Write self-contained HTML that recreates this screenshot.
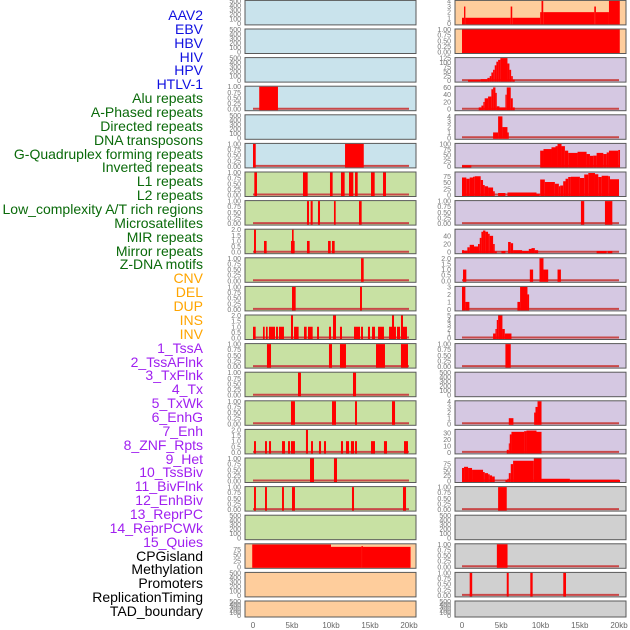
<!DOCTYPE html>
<html><head><meta charset="utf-8">
<style>
html,body{margin:0;padding:0;background:#fff;}
#wrap{position:relative;width:630px;height:630px;overflow:hidden;font-family:"Liberation Sans",sans-serif;}
.lbl{position:absolute;right:427px;font-size:14px;line-height:14px;white-space:nowrap;}
svg{position:absolute;left:0;top:0;}
</style></head>
<body>
<div id="wrap">
<svg id="chart" width="630" height="630"></svg>
</div>
<script>
// ---- track labels ----
const trackLabels = ["AAV2","EBV","HBV","HIV","HPV","HTLV-1","Alu repeats","A-Phased repeats","Directed repeats","DNA transposons","G-Quadruplex forming repeats","Inverted repeats","L1 repeats","L2 repeats","Low_complexity A/T rich regions","Microsatellites","MIR repeats","Mirror repeats","Z-DNA motifs","CNV","DEL","DUP","INS","INV","1_TssA","2_TssAFlnk","3_TxFlnk","4_Tx","5_TxWk","6_EnhG","7_Enh","8_ZNF_Rpts","9_Het","10_TssBiv","11_BivFlnk","12_EnhBiv","13_ReprPC","14_ReprPCWk","15_Quies","CPGisland","Methylation","Promoters","ReplicationTiming","TAD_boundary"];
const labelGroupSizes = [6,13,5,15,5];
const labelGroupColors = ["#1010e0","#0a6a0a","#ffa500","#a020f0","#000000"];

// ---- x axis ----
const xTickValues = [0,5,10,15,20];
const xTickLabels = ["0","5kb","10kb","15kb","20kb"];

// ---- tick sets ----
const E_vals=[0,100,200,300,400,500], E_lab=["0","100","200","300","400","500"];
const U_vals=[0,0.25,0.5,0.75,1], U_lab=["0.00","0.25","0.50","0.75","1.00"];
const T2_vals=[0,0.5,1,1.5,2], T2_lab=["0.0","0.5","1.0","1.5","2.0"];

// ---- left column ----
const leftBg = ["#c9e3ec","#c9e3ec","#c9e3ec","#c9e3ec","#c9e3ec","#c9e3ec",
 "#c8e1a3","#c8e1a3","#c8e1a3","#c8e1a3","#c8e1a3","#c8e1a3","#c8e1a3","#c8e1a3","#c8e1a3","#c8e1a3","#c8e1a3","#c8e1a3","#c8e1a3",
 "#fecd9c","#fecd9c","#fecd9c"];
const leftYmax = [500,500,500,1,500,1,1,1,2,1,1,2,1,1,1,2,1,1,500,97,500,500];
const leftTicks = ["E","E","E","U","E","U","U","U","T2","U","U","T2","U","U","U","T2","U","U","E",[0,25,50,75],"E","E"];
const leftBars = [
 [],[],[],
 [[0.8,3.2,1]],
 [],
 [[0,0.35,1],[11.8,14.2,1]],
 [[0.17,0.51,1],[6.41,7.01,1],[9.87,10.21,1],[11.28,11.75,1],[12.31,12.86,1],[13.08,13.42,1],[15.13,15.6,1],[16.67,17.05,1]],
 [[6.92,7.18,1],[7.39,7.65,1],[8.33,8.59,1],[10.38,10.6,1],[13.59,13.93,1]],
 [[0.13,0.38,2],[1.41,1.75,1],[4.87,5.34,1],[5.0,5.21,2],[6.92,7.26,1],[9.62,9.96,1],[10.13,10.47,1]],
 [[13.85,14.19,1]],
 [[5.0,5.47,1],[13.72,13.97,1]],
 [[0,0.34,1],[1.28,1.5,1],[1.67,1.88,1],[2.05,2.82,1],[2.95,3.2,1],[3.33,3.97,1],[4.87,5.13,2],[5.26,5.85,1],[6.54,6.88,1],[7.05,7.65,1],[8.21,8.46,1],[9.74,10.0,1],[10.26,10.64,2],[11.15,11.41,1],[12.95,13.72,1],[13.85,14.1,1],[14.74,15.0,1],[15.26,15.64,1],[16.03,16.79,1],[17.44,18.33,1],[17.82,18.08,2],[18.46,18.85,1],[18.97,19.23,2],[19.1,19.74,1]],
 [[1.79,2.31,1],[9.74,10.13,1],[11.15,11.92,1],[15.77,16.92,1],[18.97,19.87,1]],
 [[5.77,6.15,1],[12.82,13.21,1]],
 [[4.87,5.38,1],[10.13,10.64,1],[13.08,13.33,1],[17.82,18.21,1]],
 [[0.13,0.38,1],[1.54,1.79,1],[2.05,2.31,1],[3.72,4.1,1],[4.49,4.74,1],[4.87,5.38,1],[6.79,7.05,2],[7.44,7.69,1],[8.46,8.72,1],[9.1,9.36,1],[11.28,11.54,1],[11.92,12.31,1],[12.56,12.95,1],[13.08,13.33,1],[15.13,15.64,1],[16.79,17.18,1],[19.36,19.87,1]],
 [[7.31,7.82,1],[10.38,10.77,1]],
 [[0.13,0.38,1],[1.54,1.79,1],[3.72,3.97,1],[5.0,5.38,1],[12.69,12.95,1],[19.23,19.62,1]],
 [],
 [[-0.1,10,96],[10,13.9,86],[13.9,14.1,89],[14.1,20.2,86]],
 [],[]
];

// ---- right column ----
const rightBg = ["#fecd9c","#fecd9c",
 "#d5c8e2","#d5c8e2","#d5c8e2","#d5c8e2","#d5c8e2","#d5c8e2","#d5c8e2","#d5c8e2","#d5c8e2","#d5c8e2","#d5c8e2","#d5c8e2","#d5c8e2","#d5c8e2","#d5c8e2",
 "#d0d0d0","#d0d0d0","#d0d0d0","#d0d0d0","#d0d0d0"];
const rightYmax = [4,1,125,62,4.2,100,90,1,55,2,3,5,1,500,4,35,100,1,500,1,1,500];
const rightTicks = [[0,1,2,3,4],"U",[0,25,50,75,100,125],[0,20,40,60],[0,1,2,3,4],[0,25,50,75,100],[0,25,50,75],"U",[0,20,40],"T2",[0,1,2,3],[0,1,2,3,4,5],"U","E",[0,1,2,3,4],[0,10,20,30],[0,25,50,75],"U","E","U","U","E"];
const rightBars = [
 [[0,0.26,1],[0.26,0.43,3],[0.43,6.2,1],[6.2,6.4,3],[6.4,9.96,1],[9.96,10.13,2],[10.13,10.35,4],[10.35,16.85,2],[16.85,17.06,3],[17.06,18.72,2],[18.72,20.1,4]],
 [[0,20.1,1]],
 [[0.77,2.38,4],[2.38,3.23,8],[3.23,3.53,15],[3.53,3.74,25],[3.74,3.96,45],[3.96,4.17,60],[4.17,4.38,85],[4.38,4.6,105],[4.6,4.89,115],[4.89,5.79,125],[5.79,6.04,95],[6.04,6.26,60],[6.26,6.47,25],[6.47,6.72,5]],
 [[2.13,2.47,5],[2.47,2.72,10],[2.72,2.89,20],[2.89,3.32,30],[3.32,3.74,35],[3.74,3.96,55],[3.96,4.26,60],[4.26,4.43,45],[4.43,4.77,8],[4.77,5.53,5],[5.53,5.7,40],[5.7,6.21,60],[6.21,6.47,30],[6.47,6.72,5]],
 [[3.96,4.6,1],[4.6,5.15,4],[5.15,5.79,2],[5.79,5.96,1]],
 [[0,1.19,5],[9.96,10.38,70],[10.38,11.4,77],[11.4,11.91,85],[11.91,12.17,90],[12.17,12.68,100],[12.68,13.11,90],[13.11,13.53,70],[13.53,14.72,60],[14.72,15.87,65],[15.87,16.3,55],[16.3,16.72,47],[16.72,17.15,48],[17.15,18.0,60],[18.0,18.43,55],[18.43,18.72,62],[18.72,19.91,70],[19.91,20.13,73]],
 [[0,0.55,70],[0.55,0.98,65],[0.98,1.4,70],[1.4,1.62,73],[1.62,2.38,75],[2.38,2.68,60],[2.68,2.89,40],[2.89,3.32,35],[3.32,3.96,30],[3.96,4.17,15],[4.6,5.53,8],[5.79,9.49,10],[9.49,9.91,5],[9.96,10.55,62],[10.55,11.83,52],[11.83,12.34,45],[12.34,12.51,35],[12.51,12.89,38],[12.89,13.19,55],[13.19,13.53,65],[13.53,13.87,72],[13.87,15.02,73],[15.02,15.57,68],[15.57,16.09,82],[16.09,16.94,88],[16.94,17.36,83],[17.36,17.79,72],[17.79,18.64,77],[18.64,18.85,75],[18.85,20,63]],
 [[15.15,15.57,1],[18.21,19.15,1]],
 [[0,0.26,5],[0.26,0.68,4],[0.68,0.98,12],[0.98,1.53,18],[1.53,2.04,14],[2.04,2.26,20],[2.26,2.47,35],[2.47,2.68,50],[2.68,2.98,53],[2.98,3.32,50],[3.32,3.53,45],[3.53,3.96,40],[3.96,4.17,20],[4.17,4.43,2],[5.02,5.53,3],[5.87,6.21,25],[6.21,6.51,22],[6.51,7.66,5],[7.66,8.51,3],[8.51,8.85,8],[8.85,9.28,10],[9.28,9.7,5],[17.15,18.43,3],[18.55,19.15,3]],
 [[0.13,0.55,1],[8.64,9.06,1],[9.87,10.38,2],[10.38,10.98,1],[12.17,12.6,1]],
 [[0,0.43,3],[0.43,0.94,1],[7.06,7.4,1],[7.4,8.34,3],[8.34,8.55,2]],
 [[3.96,4.26,1],[4.26,4.43,2],[4.43,4.6,4],[4.6,5.15,5],[5.15,5.45,2],[5.45,6.3,1]],
 [[5.53,6.21,1]],
 [],
 [[5.96,6.55,1],[9.19,9.36,2],[9.36,9.62,3],[9.62,10.13,4]],
 [[5.7,5.96,4],[5.96,6.09,14],[6.09,6.3,28],[6.3,7.91,32],[7.91,8.21,33],[8.21,9.49,34],[9.49,10.13,32]],
 [[0,0.26,58],[0.26,0.77,63],[0.77,1.28,58],[1.28,2.68,50],[2.68,2.89,40],[2.89,3.32,35],[3.32,3.53,30],[3.53,3.83,25],[3.83,4.17,20],[5.53,5.79,5],[5.79,5.96,10],[5.96,6.21,35],[6.21,6.51,75],[6.51,9.15,90],[9.15,10.13,100],[10.13,13.74,10],[13.74,20.13,5]],
 [[4.6,5.7,1]],
 [],
 [[4.44,5.8,1]],
 [[0.98,1.3,1],[5.7,5.95,1],[8.7,9.0,1],[12.9,13.25,1]],
 []
];

const NS="http://www.w3.org/2000/svg";
const svg=document.getElementById('chart');
const wrap=document.getElementById('wrap');
function mk(tag,attrs,parent){const e=document.createElementNS(NS,tag);for(const k in attrs)e.setAttribute(k,attrs[k]);(parent||svg).appendChild(e);return e;}

// labels
let li=0;
labelGroupSizes.forEach((n,g)=>{for(let k=0;k<n;k++){
 const d=document.createElement('div');d.className='lbl';
 d.style.top=(8+li*13.86)+'px';d.style.color=labelGroupColors[g];
 d.textContent=trackLabels[li];
 
 
 wrap.appendChild(d);li++;}});

const cols=[
 {px:245,pw:171,x0:253,x20:409,bg:leftBg,ymax:leftYmax,ticks:leftTicks,bars:leftBars,name:'left'},
 {px:455,pw:171,x0:462,x20:619,bg:rightBg,ymax:rightYmax,ticks:rightTicks,bars:rightBars,name:'right'}
];
function rowTop(i){return 0.4+i*28.6;}
function rowH(i){return i===21?16:24.5;}

cols.forEach(c=>{
 const xs=kb=>c.x0+(c.x20-c.x0)*kb/20;
 for(let i=0;i<22;i++){
  const top=rowTop(i),h=rowH(i),bot=top+h;
  const ymax=c.ymax[i];
  const ys=v=>(bot-1.5)-(h-2)*v/ymax;
  const g=mk('g',{});
  
  
  const r=mk('rect',{x:c.px,y:top,width:c.pw,height:h,fill:c.bg[i],stroke:'#5a5a5a','stroke-width':1},g);
  
  
  let tv,tl;const t=c.ticks[i];
  if(t==='E'){tv=E_vals;tl=E_lab;}else if(t==='U'){tv=U_vals;tl=U_lab;}else if(t==='T2'){tv=T2_vals;tl=T2_lab;}else{tv=t;tl=t.map(String);}
  const bars=c.bars[i];
  if(bars.length && t!=='E' && !(c.name==='left'&&i===19) && !(c.name==='right'&&i<2)){
   const bl=mk('line',{x1:xs(0),x2:xs(20),y1:ys(0)-0.5,y2:ys(0)-0.5,stroke:'#c84848','stroke-width':2},g);
   
   
  }
  bars.forEach(b=>{
   const x1=Math.max(xs(b[0]),c.px+0.5),x2=Math.min(xs(b[1]),c.px+c.pw-0.5);
   const y=Math.max(ys(b[2]),top+0.5);
   const br=mk('rect',{x:x1,y:y,width:Math.max(x2-x1,1),height:(bot-0.5)-y,fill:'#ff0000'},g);
   
   
  });
  tv.forEach((v,k)=>{
   const tx=mk('text',{x:c.px-4,y:ys(v)+2.5,'font-size':7,'text-anchor':'end',fill:'#777','font-family':'Liberation Sans, sans-serif'},g);
   tx.textContent=tl[k];
   
   
  });
 }
 xTickValues.forEach((v,k)=>{
  const tx=mk('text',{x:xs(v),y:628,'font-size':8,'text-anchor':'middle',fill:'#666','font-family':'Liberation Sans, sans-serif'});
  tx.textContent=xTickLabels[k];
  
  
 });
});
</script>
</body></html>
